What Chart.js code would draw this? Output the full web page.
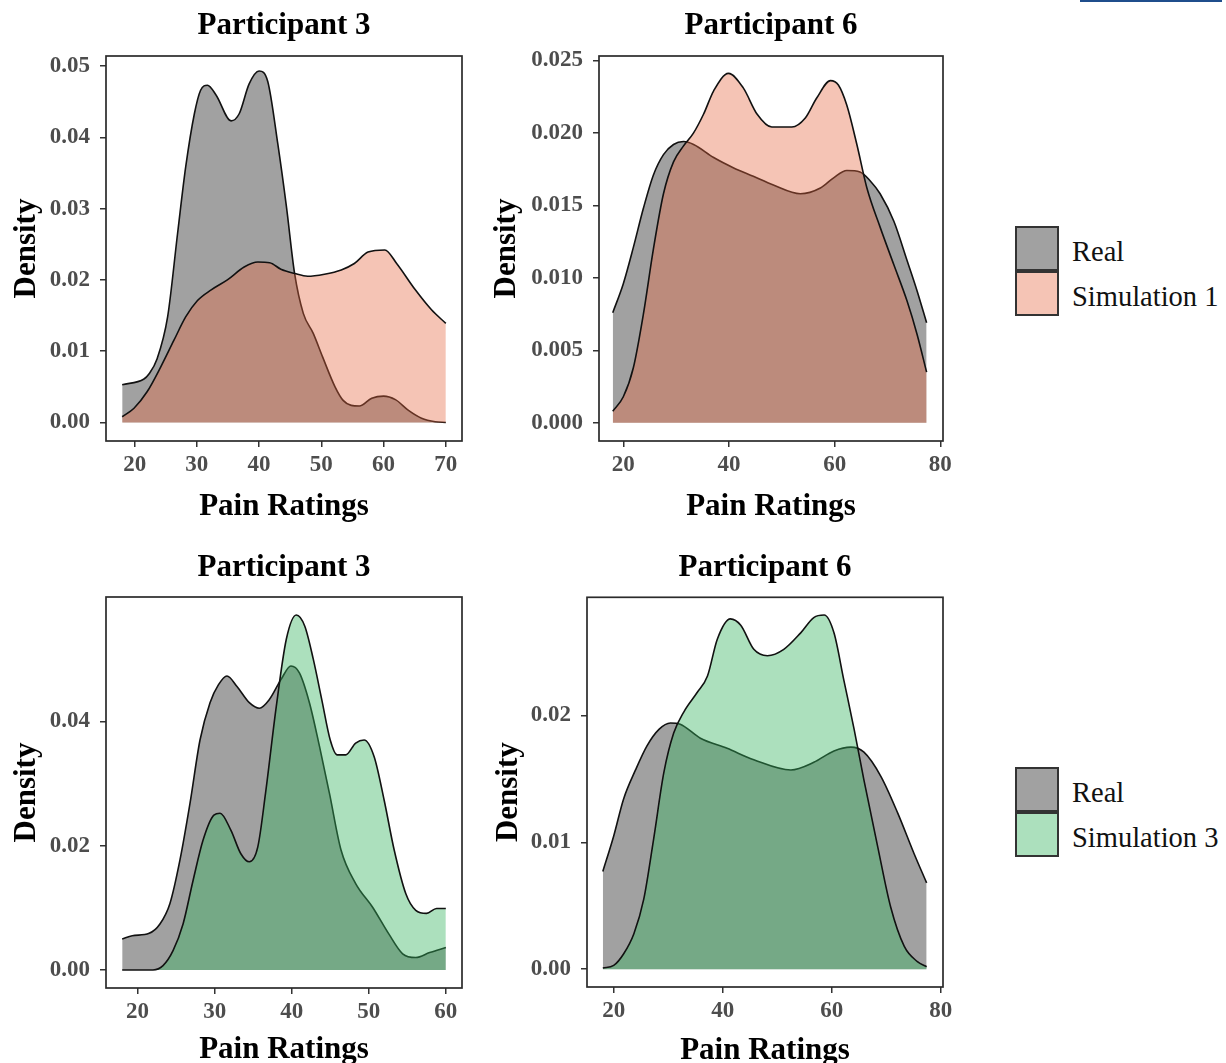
<!DOCTYPE html>
<html>
<head>
<meta charset="utf-8">
<title>Pain ratings density</title>
<script src="https://cdn.jsdelivr.net/npm/chart.js@4"></script>
<style>
  html, body { margin: 0; padding: 0; background: #fff; overflow: hidden; }
  body { width: 1226px; height: 1063px; position: relative; }
  canvas { position: absolute; }
  .legend { position: absolute; font-family: "Liberation Serif", "Times New Roman", serif; font-size: 28.5px; color: #111; }
  .legend .row { display: flex; align-items: center; height: 45px; }
  .legend .key { width: 40px; height: 41px; border: 2px solid #333; box-sizing: content-box; }
  .legend .lab { margin-left: 13px; line-height: 1; position: relative; top: 4px; }
  .topline { position: absolute; left: 1080px; top: 0; width: 142px; height: 2px; background: #1f4e8c; }
</style>
</head>
<body>
<div class="topline"></div>
<canvas id="p3sim1" width="480" height="530" style="left:0;top:0"></canvas>
<canvas id="p6sim1" width="480" height="530" style="left:480px;top:0"></canvas>
<canvas id="p3sim3" width="480" height="540" style="left:0;top:540px"></canvas>
<canvas id="p6sim3" width="480" height="540" style="left:480px;top:540px"></canvas>

<div class="legend" style="left:1015px;top:226px">
  <div class="row"><span class="key" style="background:rgba(0,0,0,0.37)"></span><span class="lab">Real</span></div>
  <div class="row"><span class="key" style="background:rgba(229,104,65,0.39)"></span><span class="lab">Simulation 1</span></div>
</div>
<div class="legend" style="left:1015px;top:767px">
  <div class="row"><span class="key" style="background:rgba(0,0,0,0.37)"></span><span class="lab">Real</span></div>
  <div class="row"><span class="key" style="background:rgba(53,179,94,0.41)"></span><span class="lab">Simulation 3</span></div>
</div>

<script>
'use strict';

// ---- data (x = pain rating, y = density) ----

// Participant 3, Real (top)
const p3RealX1 = [18, 21.5, 22.3, 23.6, 25.3, 26.9, 28.2, 29.6, 30.6, 31.7, 33.1, 35.5, 36.8, 38.4, 40.0, 41.4, 43.0, 44.4, 45.7, 47.1, 48.7, 50.2, 52.2, 53.5, 54.8, 56.1, 58.1, 60.0, 61.9, 64.0, 66.1, 68.3, 70];
const p3RealY1 = [0.0053, 0.0061, 0.0068, 0.0089, 0.0148, 0.0265, 0.0358, 0.0433, 0.0466, 0.0473, 0.0459, 0.0423, 0.0433, 0.0475, 0.0493, 0.0478, 0.0391, 0.0302, 0.0209, 0.0153, 0.0125, 0.0092, 0.0050, 0.0031, 0.0024, 0.0023, 0.0034, 0.0037, 0.0032, 0.0017, 0.0006, 0.0001, 0.0000];
// Participant 3, Simulation 1
const p3Sim1X = [18, 19.9, 22.0, 24.2, 26.3, 28.2, 30.1, 32.3, 34.9, 37.6, 39.8, 41.7, 43.5, 45.7, 47.8, 50.5, 53.2, 55.3, 57.5, 60.2, 62.1, 65.1, 67.7, 70];
const p3Sim1Y = [0.0008, 0.0020, 0.0043, 0.0078, 0.0115, 0.0148, 0.0171, 0.0186, 0.0200, 0.0218, 0.0225, 0.0224, 0.0215, 0.0209, 0.0205, 0.0208, 0.0214, 0.0223, 0.0239, 0.0242, 0.0223, 0.0186, 0.0158, 0.0139];

// Participant 6, Real (top)
const p6RealX1 = [18.0, 20.0, 21.9, 23.8, 25.7, 27.6, 29.5, 31.4, 33.3, 37.1, 40.8, 44.6, 48.4, 53.5, 57.3, 59.8, 62.3, 64.8, 66.7, 68.6, 71.2, 73.7, 75.6, 77.4];
const p6RealY1 = [0.0076, 0.0096, 0.0121, 0.0148, 0.0171, 0.0185, 0.0192, 0.0194, 0.0192, 0.0183, 0.0176, 0.0170, 0.0164, 0.0158, 0.0162, 0.0169, 0.0174, 0.0173, 0.0167, 0.0158, 0.0139, 0.0112, 0.0091, 0.0069];
// Participant 6, Simulation 1
const p6Sim1X = [18.0, 20.0, 21.9, 23.8, 25.7, 27.6, 29.5, 31.4, 33.3, 35.2, 37.1, 39.9, 42.7, 45.3, 48.1, 51.9, 54.4, 56.6, 59.2, 60.7, 62.3, 64.2, 66.1, 68.6, 71.2, 73.7, 75.6, 77.4];
const p6Sim1Y = [0.0008, 0.0018, 0.0038, 0.0075, 0.0120, 0.0158, 0.0180, 0.0191, 0.0200, 0.0213, 0.0229, 0.0241, 0.0231, 0.0213, 0.0204, 0.0204, 0.0210, 0.0224, 0.0236, 0.0233, 0.0219, 0.0192, 0.0162, 0.0135, 0.0109, 0.0084, 0.0061, 0.0035];

// Participant 3, Real (bottom)
const p3RealX2 = [18, 19.3, 21.5, 22.9, 24.2, 25.5, 26.8, 28.1, 29.4, 30.5, 31.6, 32.9, 34.5, 35.8, 37.1, 38.6, 39.9, 41.0, 42.3, 43.6, 44.9, 46.4, 48.3, 50.5, 52.6, 54.4, 56.1, 57.9, 60];
const p3RealY2 = [0.0050, 0.0055, 0.0059, 0.0074, 0.0107, 0.0177, 0.0268, 0.0370, 0.0430, 0.0459, 0.0473, 0.0456, 0.0430, 0.0421, 0.0435, 0.0467, 0.0489, 0.0478, 0.0430, 0.0360, 0.0284, 0.0193, 0.0139, 0.0101, 0.0058, 0.0026, 0.0020, 0.0028, 0.0036];
// Participant 3, Simulation 3
const p3Sim3X = [18, 22.0, 23.3, 24.6, 25.9, 27.2, 28.5, 29.9, 30.7, 32.1, 33.4, 34.5, 35.6, 36.6, 38.0, 39.3, 40.6, 41.7, 42.8, 43.9, 45.0, 45.9, 47.0, 48.3, 49.4, 50.7, 52.0, 53.3, 54.8, 56.1, 57.5, 58.8, 60];
const p3Sim3Y = [0.0000, 0.0000, 0.0007, 0.0031, 0.0074, 0.0144, 0.0209, 0.0249, 0.0252, 0.0225, 0.0187, 0.0174, 0.0198, 0.0284, 0.0424, 0.0532, 0.0571, 0.0553, 0.0500, 0.0435, 0.0370, 0.0346, 0.0346, 0.0365, 0.0370, 0.0343, 0.0273, 0.0193, 0.0123, 0.0096, 0.0091, 0.0099, 0.0099];

// Participant 6, Real (bottom)
const p6RealX2 = [18.0, 20, 21.8, 24.0, 26.1, 28.3, 30.4, 32.2, 35.9, 40.8, 45.7, 52.5, 56.7, 60.4, 63.5, 65.9, 69.0, 72.1, 75.1, 77.4];
const p6RealY2 = [0.0077, 0.0105, 0.0134, 0.0157, 0.0176, 0.0189, 0.0194, 0.0193, 0.0182, 0.0174, 0.0165, 0.0157, 0.0163, 0.0172, 0.0175, 0.0171, 0.0152, 0.0123, 0.0091, 0.0068];
// Participant 6, Simulation 3
const p6Sim3X = [18.0, 20, 21.8, 23.7, 25.5, 27.3, 29.2, 31.0, 32.9, 35.3, 37.2, 39.0, 41.4, 43.3, 45.7, 48.2, 51.2, 54.3, 56.7, 58.6, 60.4, 62.2, 64.1, 65.9, 68.4, 70.8, 73.3, 75.7, 77.4];
const p6Sim3Y = [0.0001, 0.0003, 0.0012, 0.0028, 0.0055, 0.0102, 0.0155, 0.0186, 0.0203, 0.0218, 0.0231, 0.0260, 0.0276, 0.0271, 0.0252, 0.0247, 0.0252, 0.0265, 0.0277, 0.0279, 0.0265, 0.0228, 0.0189, 0.0149, 0.0097, 0.0049, 0.0018, 0.0006, 0.0002];

// tick labels
const xTicksP3Top = [20, 30, 40, 50, 60, 70];
const xTicksP3Bottom = [20, 30, 40, 50, 60];
const xTicksP6 = [20, 40, 60, 80];
const yTicksP3Top = [0, 0.01, 0.02, 0.03, 0.04, 0.05];
const yTicksP6Top = [0, 0.005, 0.010, 0.015, 0.020, 0.025];
const yTicksP3Bottom = [0, 0.02, 0.04];
const yTicksP6Bottom = [0, 0.01, 0.02];

// ---- styling ----
const SERIF = '"Liberation Serif", "Times New Roman", serif';
const REAL_FILL = 'rgba(0,0,0,0.37)';
const SIM1_FILL = 'rgba(229,104,65,0.39)';
const SIM3_FILL = 'rgba(53,179,94,0.41)';

/** Draws the ggplot-like box round the plotting panel. */
const panelBorder = {
  id: 'panelBorder',
  afterDatasetsDraw(chart) {
    const {ctx, chartArea: a} = chart;
    ctx.save();
    ctx.strokeStyle = '#2b2b2b';
    ctx.lineWidth = 1.7;
    ctx.strokeRect(a.left, a.top, a.right - a.left, a.bottom - a.top);
    ctx.restore();
  }
};

function points(xs, ys) {
  return xs.map((x, i) => ({x: x, y: ys[i]}));
}

function density(label, xs, ys, fill, order) {
  return {
    label: label,
    data: points(xs, ys),
    backgroundColor: fill,
    borderColor: '#111',
    borderWidth: 1.6,
    fill: 'origin',
    pointRadius: 0,
    cubicInterpolationMode: 'monotone',
    order: order
  };
}

/**
 * Builds one panel.
 * @param id {string} canvas id
 * @param p {object} layout numbers and data for the panel
 */
function makePanel(id, p) {
  return new Chart(document.getElementById(id), {
    type: 'line',
    data: {
      datasets: [
        density('Real', p.realX, p.realY, REAL_FILL, 2),
        density(p.simLabel, p.simX, p.simY, p.simFill, 1)
      ]
    },
    plugins: [panelBorder],
    options: {
      responsive: false,
      animation: false,
      devicePixelRatio: 1,
      layout: {padding: {left: 0, right: p.padRight, top: 0, bottom: 0}},
      plugins: {
        legend: {display: false},
        tooltip: {enabled: false},
        title: {
          display: true,
          text: p.title,
          fullSize: false,
          color: '#000',
          font: {family: SERIF, size: 31, weight: 'bold'},
          padding: {top: p.titleTop, bottom: p.titleBottom}
        }
      },
      scales: {
        x: {
          type: 'linear',
          min: p.xMin,
          max: p.xMax,
          afterFit: s => { s.height = p.xAxisHeight; },
          afterBuildTicks: s => { s.ticks = p.xTicks.map(v => ({value: v})); },
          grid: {drawOnChartArea: false, drawTicks: true, tickLength: 6, color: '#333', lineWidth: 1.5},
          border: {display: false},
          ticks: {
            color: '#4d4d4d',
            font: {family: SERIF, size: 23, weight: 'bold'},
            padding: 4,
            maxRotation: 0,
            callback: v => String(v)
          },
          title: {
            display: true,
            text: 'Pain Ratings',
            color: '#000',
            font: {family: SERIF, size: 31, weight: 'bold'},
            padding: {top: 0, bottom: p.xTitleBottom}
          }
        },
        y: {
          min: p.yMin,
          max: p.yMax,
          afterFit: s => { s.width = p.yAxisWidth; },
          afterBuildTicks: s => { s.ticks = p.yTicks.map(v => ({value: v})); },
          grid: {drawOnChartArea: false, drawTicks: true, tickLength: 6, color: '#333', lineWidth: 1.5},
          border: {display: false},
          ticks: {
            color: '#4d4d4d',
            font: {family: SERIF, size: 23, weight: 'bold'},
            padding: 10,
            callback: v => v.toFixed(p.yDecimals)
          },
          title: {
            display: true,
            text: 'Density',
            color: '#000',
            font: {family: SERIF, size: 31, weight: 'bold'},
            padding: {top: p.yTitleLeft, bottom: 0}
          }
        }
      }
    }
  });
}

makePanel('p3sim1', {
  title: 'Participant 3', simLabel: 'Simulation 1', simFill: SIM1_FILL,
  realX: p3RealX1, realY: p3RealY1, simX: p3Sim1X, simY: p3Sim1Y,
  xMin: 15.4, xMax: 72.6, yMin: -0.0026, yMax: 0.0514,
  xTicks: xTicksP3Top, yTicks: yTicksP3Top, yDecimals: 2,
  yAxisWidth: 106, xAxisHeight: 89, padRight: 18,
  titleTop: 7.6, titleBottom: 11.2, xTitleBottom: 4, yTitleLeft: 8.5
});

makePanel('p6sim1', {
  title: 'Participant 6', simLabel: 'Simulation 1', simFill: SIM1_FILL,
  realX: p6RealX1, realY: p6RealY1, simX: p6Sim1X, simY: p6Sim1Y,
  xMin: 15.4, xMax: 80.5, yMin: -0.00125, yMax: 0.0253,
  xTicks: xTicksP6, yTicks: yTicksP6Top, yDecimals: 3,
  yAxisWidth: 119, xAxisHeight: 89, padRight: 17,
  titleTop: 7.6, titleBottom: 11.2, xTitleBottom: 4, yTitleLeft: 8.5
});

makePanel('p3sim3', {
  title: 'Participant 3', simLabel: 'Simulation 3', simFill: SIM3_FILL,
  realX: p3RealX2, realY: p3RealY2, simX: p3Sim3X, simY: p3Sim3Y,
  xMin: 15.9, xMax: 62.1, yMin: -0.0029, yMax: 0.06,
  xTicks: xTicksP3Bottom, yTicks: yTicksP3Bottom, yDecimals: 2,
  yAxisWidth: 106, xAxisHeight: 92, padRight: 18,
  titleTop: 9.4, titleBottom: 10.4, xTitleBottom: 11.7, yTitleLeft: 8.5
});

makePanel('p6sim3', {
  title: 'Participant 6', simLabel: 'Simulation 3', simFill: SIM3_FILL,
  realX: p6RealX2, realY: p6RealY2, simX: p6Sim3X, simY: p6Sim3Y,
  xMin: 15.1, xMax: 80.4, yMin: -0.0014, yMax: 0.0293,
  xTicks: xTicksP6, yTicks: yTicksP6Bottom, yDecimals: 2,
  yAxisWidth: 107, xAxisHeight: 93, padRight: 17,
  titleTop: 9.4, titleBottom: 10.7, xTitleBottom: 10, yTitleLeft: 10
});
</script>
</body>
</html>
